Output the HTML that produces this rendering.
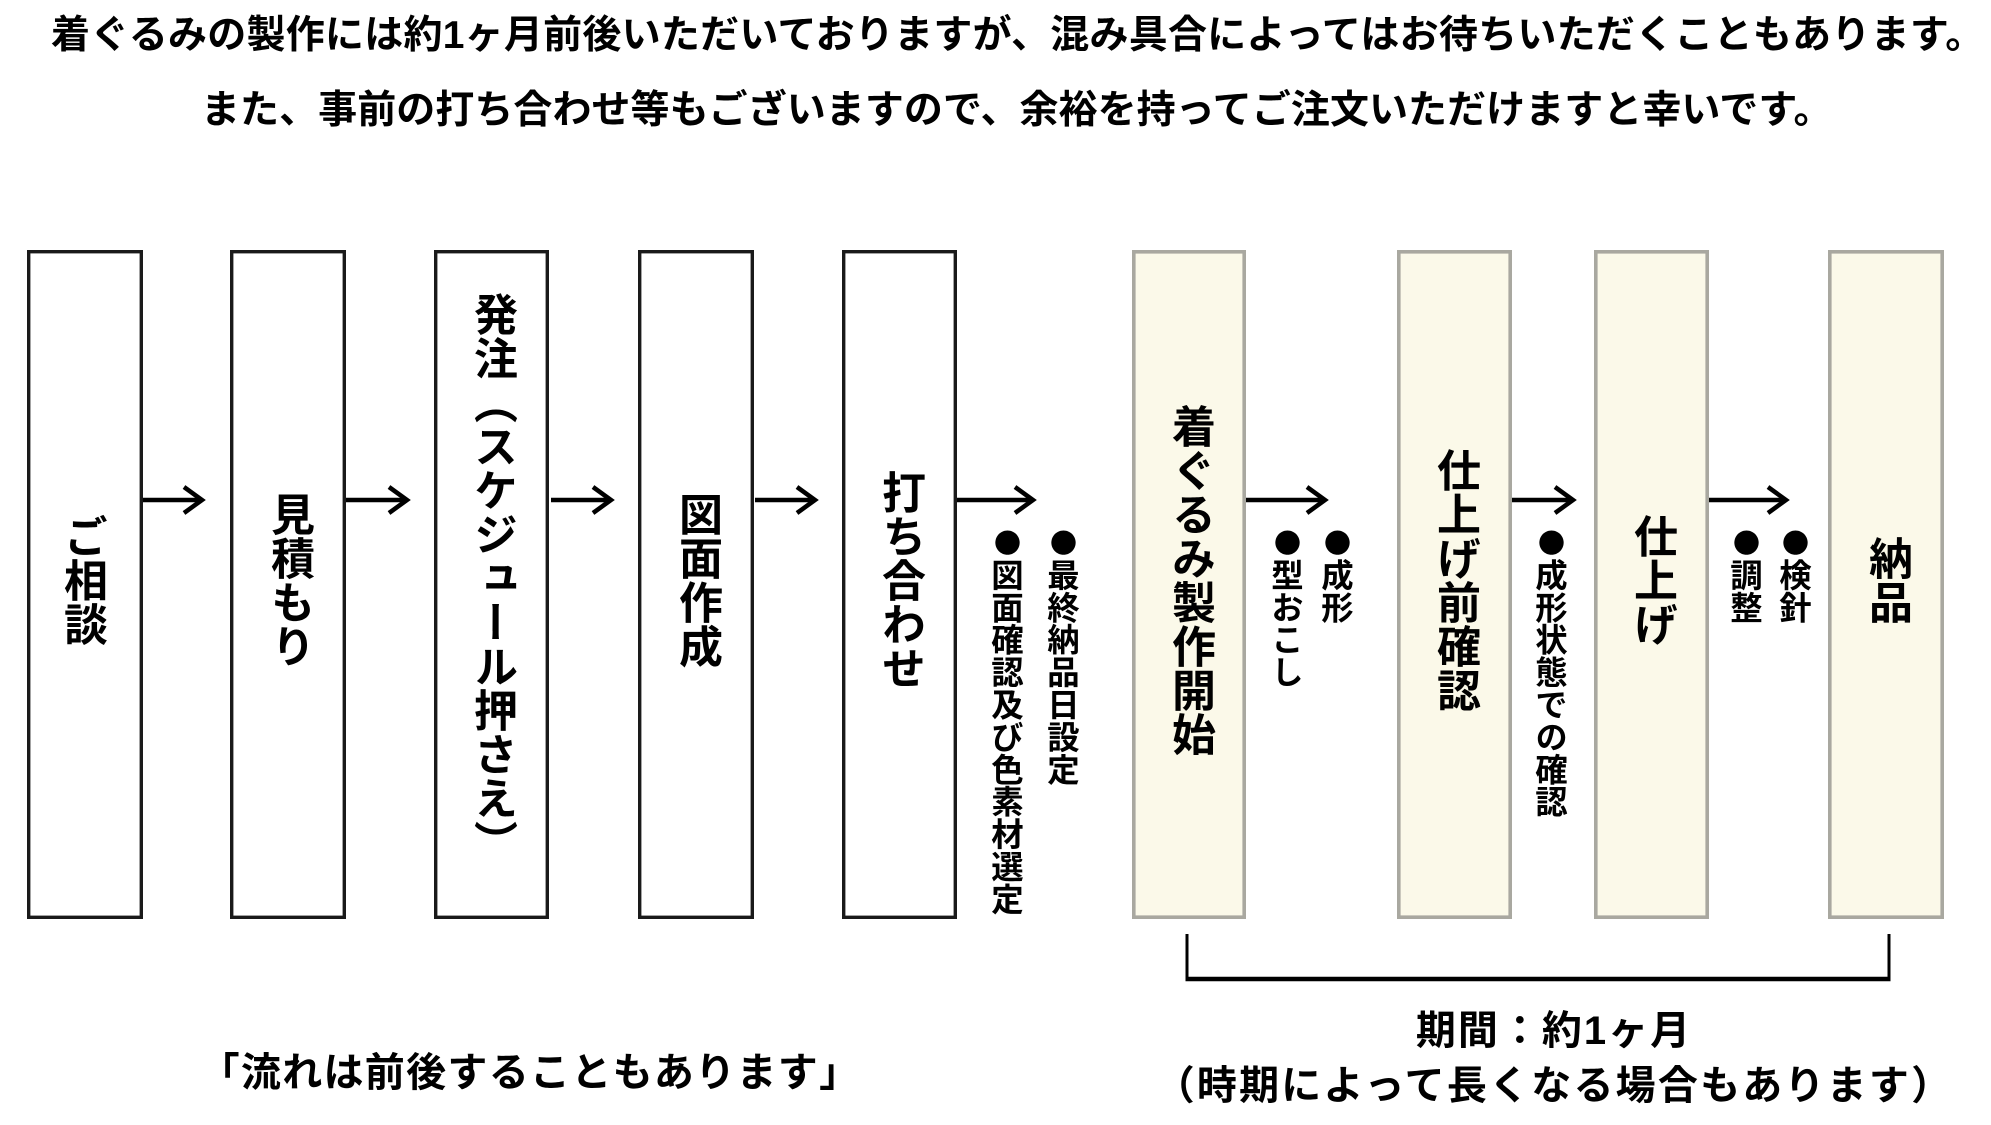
<!DOCTYPE html>
<html lang="ja">
<head>
<meta charset="utf-8">
<style>
html,body{margin:0;padding:0;background:#fff;}
body{width:1991px;height:1125px;position:relative;overflow:hidden;
font-family:"Liberation Sans","Noto Sans CJK JP",sans-serif;font-weight:700;color:#000;}
svg.g{position:absolute;left:0;top:0;}
.h{position:absolute;white-space:nowrap;font-size:39px;line-height:39px;}
.v{position:absolute;writing-mode:vertical-rl;white-space:nowrap;font-size:44px;line-height:44px;width:44px;}
.b{position:absolute;writing-mode:vertical-rl;white-space:nowrap;font-size:32.4px;line-height:32px;width:32px;
font-family:"Noto Sans CJK JP",sans-serif;}
.d{font-size:27px;margin-top:3px;margin-bottom:2.4px;}
.c{position:absolute;white-space:nowrap;font-size:40px;line-height:40px;text-align:center;letter-spacing:1px;}
</style>
</head>
<body>
<svg class="g" width="1991" height="1125" viewBox="0 0 1991 1125">
  <g fill="#fff" stroke="#1a1a1a" stroke-width="3.4">
    <rect x="28.7" y="251.7" width="112.6" height="665.6"/>
    <rect x="231.7" y="251.7" width="112.6" height="665.6"/>
    <rect x="435.7" y="251.7" width="111.6" height="665.6"/>
    <rect x="639.7" y="251.7" width="112.6" height="665.6"/>
    <rect x="843.7" y="251.7" width="111.6" height="665.6"/>
  </g>
  <g fill="#fbf9e9" stroke="#a9a8a0" stroke-width="3.6">
    <rect x="1133.8" y="251.8" width="110.4" height="665.4"/>
    <rect x="1398.8" y="251.8" width="111.4" height="665.4"/>
    <rect x="1595.8" y="251.8" width="111.4" height="665.4"/>
    <rect x="1829.8" y="251.8" width="112.4" height="665.4"/>
  </g>
  <g fill="none" stroke="#000" stroke-width="4.5" stroke-linejoin="miter" stroke-linecap="butt">
    <line x1="143" y1="500" x2="202" y2="500"/><polyline points="184,487 202,500 184,513"/>
    <line x1="346" y1="500" x2="407" y2="500"/><polyline points="389,487 407,500 389,513"/>
    <line x1="551" y1="500" x2="611" y2="500"/><polyline points="593,487 611,500 593,513"/>
    <line x1="755" y1="500" x2="815" y2="500"/><polyline points="797,487 815,500 797,513"/>
    <line x1="957" y1="500" x2="1033" y2="500"/><polyline points="1015,487 1033,500 1015,513"/>
    <line x1="1246" y1="500" x2="1325" y2="500"/><polyline points="1307,487 1325,500 1307,513"/>
    <line x1="1512" y1="500" x2="1573" y2="500"/><polyline points="1555,487 1573,500 1555,513"/>
    <line x1="1709" y1="500" x2="1786" y2="500"/><polyline points="1768,487 1786,500 1768,513"/>
  </g>
  <g stroke="#000" fill="none">
    <line x1="1187" y1="934" x2="1187" y2="981" stroke-width="3"/>
    <line x1="1889" y1="934" x2="1889" y2="981" stroke-width="3"/>
    <line x1="1185.5" y1="979" x2="1890.5" y2="979" stroke-width="4.5"/>
  </g>
</svg>

<div class="h" style="left:51px;top:16px;letter-spacing:0.25px;">着ぐるみの製作には約1ヶ月前後いただいておりますが、混み具合によってはお待ちいただくこともあります。</div>
<div class="h" style="left:201px;top:91px;letter-spacing:0.05px;">また、事前の打ち合わせ等もございますので、余裕を持ってご注文いただけますと幸いです。</div>

<div class="v" style="left:59px;top:514px;">ご相談</div>
<div class="v" style="left:266px;top:492px;">見積もり</div>
<div class="v" style="left:469px;top:292px;">発注（スケジュール押さえ）</div>
<div class="v" style="left:674px;top:492px;">図面作成</div>
<div class="v" style="left:877px;top:470px;">打ち合わせ</div>
<div class="v" style="left:1167px;top:404px;">着ぐるみ製作開始</div>
<div class="v" style="left:1432px;top:448px;">仕上げ前確認</div>
<div class="v" style="left:1629px;top:514px;">仕上げ</div>
<div class="v" style="left:1864px;top:536px;">納品</div>

<div class="b" style="left:1047px;top:526px;"><span class="d">●</span>最終納品日設定</div>
<div class="b" style="left:991px;top:526px;"><span class="d">●</span>図面確認及び色素材選定</div>
<div class="b" style="left:1321px;top:526px;"><span class="d">●</span>成形</div>
<div class="b" style="left:1271px;top:526px;"><span class="d">●</span>型おこし</div>
<div class="b" style="left:1535px;top:526px;"><span class="d">●</span>成形状態での確認</div>
<div class="b" style="left:1779px;top:526px;"><span class="d">●</span>検針</div>
<div class="b" style="left:1730px;top:526px;"><span class="d">●</span>調整</div>

<div class="c" style="left:0;width:1060px;top:1053px;letter-spacing:1.3px;">「流れは前後することもあります」</div>
<div class="c" style="left:1154px;width:800px;top:1011px;letter-spacing:2px;">期間：約1ヶ月</div>
<div class="c" style="left:1154px;width:800px;top:1066px;letter-spacing:2.2px;">（時期によって長くなる場合もあります）</div>
</body>
</html>
